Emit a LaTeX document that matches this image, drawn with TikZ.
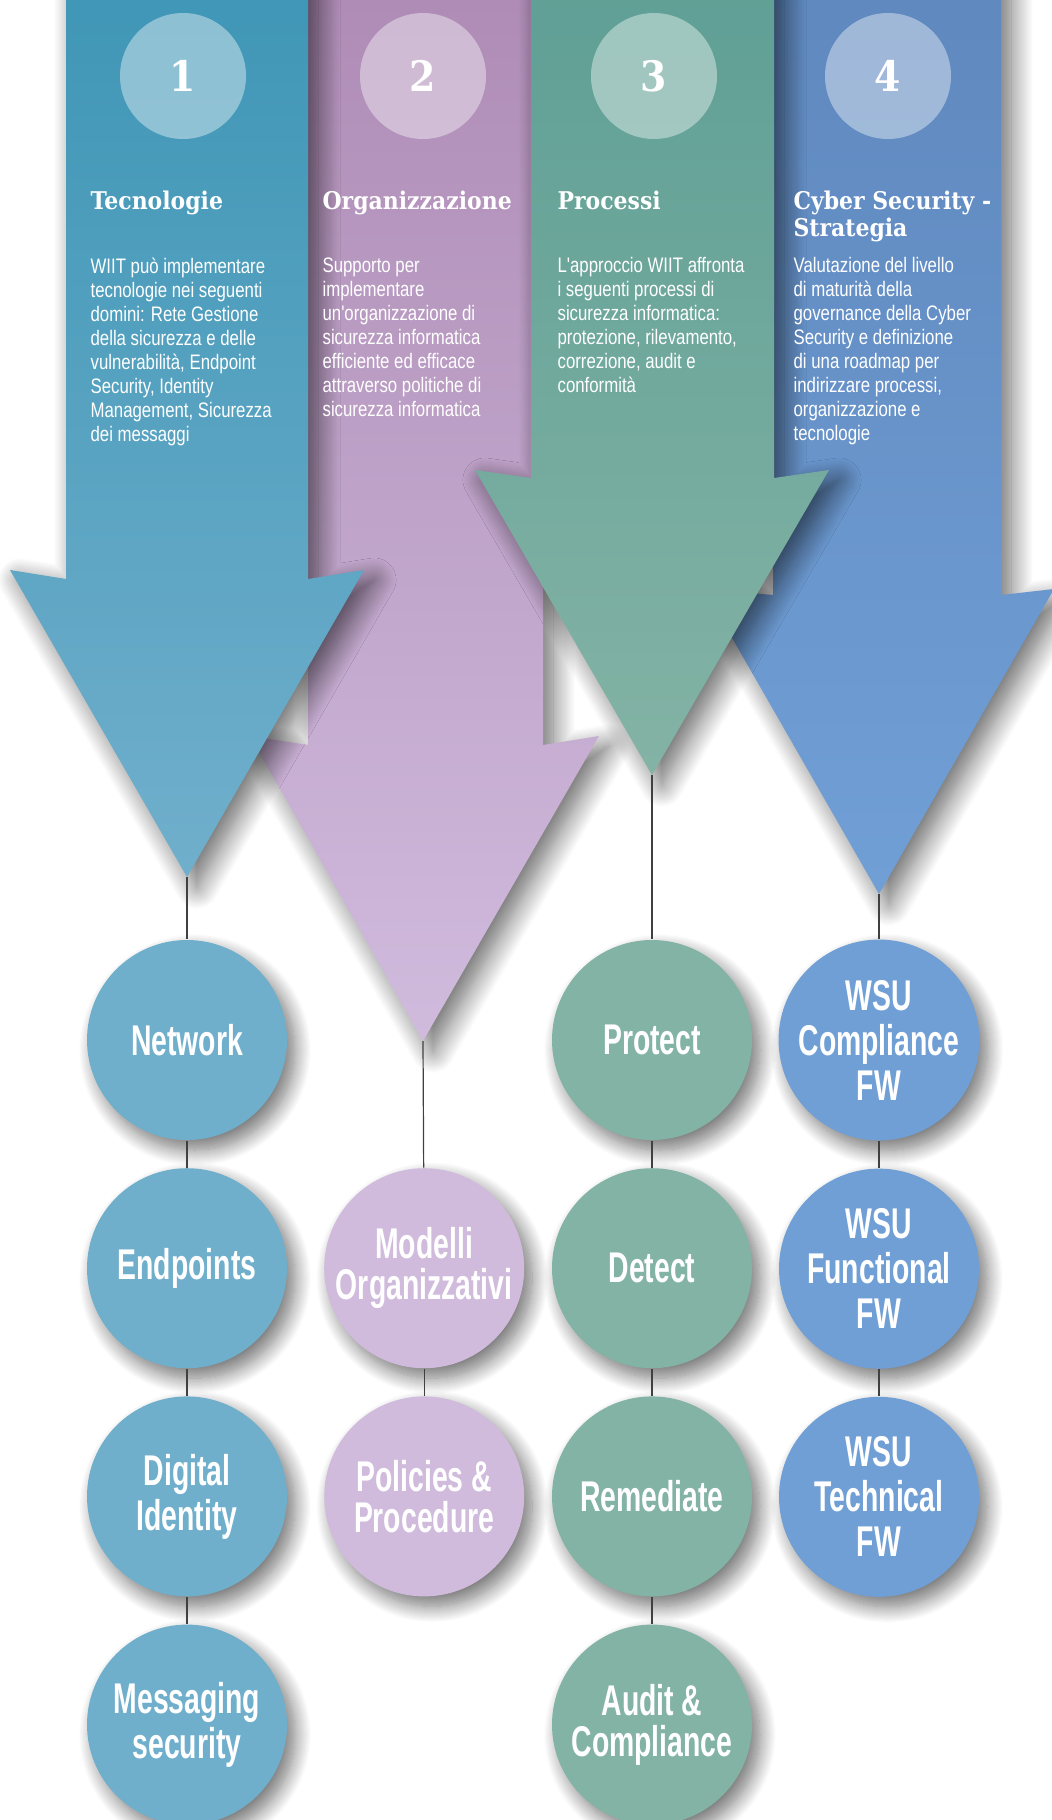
\documentclass[tikz,border=0pt]{standalone}
\usepackage{fontspec}
\usepackage{tikz}
\usetikzlibrary{positioning,shadows.blur}
\newfontfamily\slabfont{DejaVu Serif}[FakeStretch=0.9]
\newfontfamily\narrowfont{Liberation Sans}[FakeStretch=0.66]
\newfontfamily\bodyfont{Liberation Sans}[FakeStretch=0.8]

\definecolor{tecA}{HTML}{3F96B6}
\definecolor{tecB}{HTML}{70AFCC}
\definecolor{orgA}{HTML}{AE8BB5}
\definecolor{orgB}{HTML}{D0BBDD}
\definecolor{proA}{HTML}{5F9F95}
\definecolor{proB}{HTML}{83B3A5}
\definecolor{strA}{HTML}{5F88BE}
\definecolor{strB}{HTML}{709FD6}

\begin{document}
\begin{tikzpicture}[x=0.5pt,y=-0.5pt,semithick,node distance=13.5pt]
  \tikzstyle{arrow}=[blur shadow={shadow xshift=5pt,shadow yshift=-5pt,shadow blur radius=11pt,shadow blur steps=20,shadow opacity=60}]
  \tikzstyle{num}=[circle,fill=white,fill opacity=0.4,text opacity=1,text=white,minimum size=63pt,inner sep=0pt,font=\slabfont\bfseries\fontsize{21}{21}\selectfont]
  \tikzstyle{head}=[anchor=north west,inner sep=0pt,align=left,text=white,font=\slabfont\bfseries\fontsize{12.2}{13.5}\selectfont]
  \tikzstyle{body}=[anchor=north west,inner sep=0pt,align=left,text=white,font=\bodyfont\fontsize{10.5}{12}\selectfont]
  \tikzstyle{leaf}=[circle,minimum size=100pt,inner sep=0pt,align=center,text=white,font=\narrowfont\bfseries\fontsize{21.5}{22.5}\selectfont,blur shadow={shadow xshift=4pt,shadow yshift=-5pt,shadow blur radius=8pt,shadow blur steps=16,shadow opacity=55}]
  \tikzstyle{tight}=[font=\narrowfont\bfseries\fontsize{21.5}{20.5}\selectfont]
  \tikzstyle{every edge}=[draw=black!75,line width=0.6pt]

  \useasboundingbox (0,0) rectangle (1052,1820);
  \clip (0,0) rectangle (1052,1820);

  % the four arrows, back to front
  \path[arrow,top color=orgA,bottom color=orgB]
    (308,-20) -- (308,745) -- (250,736) -- (423,1041) -- (599,736) -- (543,745) -- (543,-20) -- cycle;
  \path[arrow,top color=strA,bottom color=strB]
    (773,-20) -- (773,595) -- (704,589) -- (879,894) -- (1054,589) -- (1001,595) -- (1001,-20) -- cycle;
  \path[arrow,top color=tecA,bottom color=tecB]
    (66,-20) -- (66,579) -- (10,570) -- (187,877) -- (364,570) -- (308,579) -- (308,-20) -- cycle;
  \path[arrow,top color=proA,bottom color=proB]
    (531,-20) -- (531,478) -- (475,470) -- (652,775) -- (829,470) -- (774,478) -- (774,-20) -- cycle;

  \coordinate (tip1) at (187,877);
  \coordinate (tip2) at (423,1041);
  \coordinate (tip3) at (652,775);
  \coordinate (tip4) at (879,894);

  % numbers
  \node[num] (n1) at (183,76) {1};
  \node[num] (n2) at (423,76) {2};
  \node[num] (n3) at (654,76) {3};
  \node[num] (n4) at (888,76) {4};

  % titles and descriptions
  \node[head] (h1) at (90,190) {Tecnologie};
  \node[head] (h2) at (322,190) {Organizzazione};
  \node[head] (h3) at (557,190) {Processi};
  \node[head] (h4) at (793,190) {Cyber Security -\\Strategia};

  \node[body] (d1) at (90,257) {WIIT può implementare\\tecnologie nei seguenti\\domini: Rete Gestione\\della sicurezza e delle\\vulnerabilità, Endpoint\\Security, Identity\\Management, Sicurezza\\dei messaggi};
  \node[body] (d2) at (322,257) {Supporto per\\implementare\\un'organizzazione di\\sicurezza informatica\\efficiente ed efficace\\attraverso politiche di\\sicurezza informatica};
  \node[body] (d3) at (557,257) {L'approccio WIIT affronta\\i seguenti processi di\\sicurezza informatica:\\protezione, rilevamento,\\correzione, audit e\\conformità};
  \node[body] (d4) at (793,257) {Valutazione del livello\\di maturità della\\governance della Cyber\\Security e definizione\\di una roadmap per\\indirizzare processi,\\organizzazione e\\tecnologie};

  % leaves
  \node[leaf,fill=tecB] (net)   at (187,1040)      {Network};
  \node[leaf,fill=tecB] (endp)  [below=of net]     {Endpoints};
  \node[leaf,fill=tecB] (digid) [below=of endp]    {Digital\\Identity};
  \node[leaf,fill=tecB] (msg)   [below=of digid]   {Messaging\\security};

  \node[leaf,tight,fill=orgB] (mod) [right=18pt of endp] {Modelli\\Organizzativi};
  \node[leaf,tight,fill=orgB] (pol) [below=of mod]       {Policies \&\\Procedure};

  \node[leaf,fill=proB] (prot) at (652,1040)     {Protect};
  \node[leaf,fill=proB] (det)  [below=of prot]   {Detect};
  \node[leaf,fill=proB] (rem)  [below=of det]    {Remediate};
  \node[leaf,tight,fill=proB] (aud) [below=of rem] {Audit \&\\Compliance};

  \node[leaf,fill=strB] (wcomp) at (879,1040)     {WSU\\Compliance\\FW};
  \node[leaf,fill=strB] (wfunc) [below=of wcomp]  {WSU\\Functional\\FW};
  \node[leaf,fill=strB] (wtech) [below=of wfunc]  {WSU\\Technical\\FW};

  \path (tip1) edge (net)
        (net)  edge (endp)
        (endp) edge (digid)
        (digid) edge (msg)
        (tip2) edge (mod)
        (mod)  edge (pol)
        (tip3) edge (prot)
        (prot) edge (det)
        (det)  edge (rem)
        (rem)  edge (aud)
        (tip4) edge (wcomp)
        (wcomp) edge (wfunc)
        (wfunc) edge (wtech);
\end{tikzpicture}
\end{document}
